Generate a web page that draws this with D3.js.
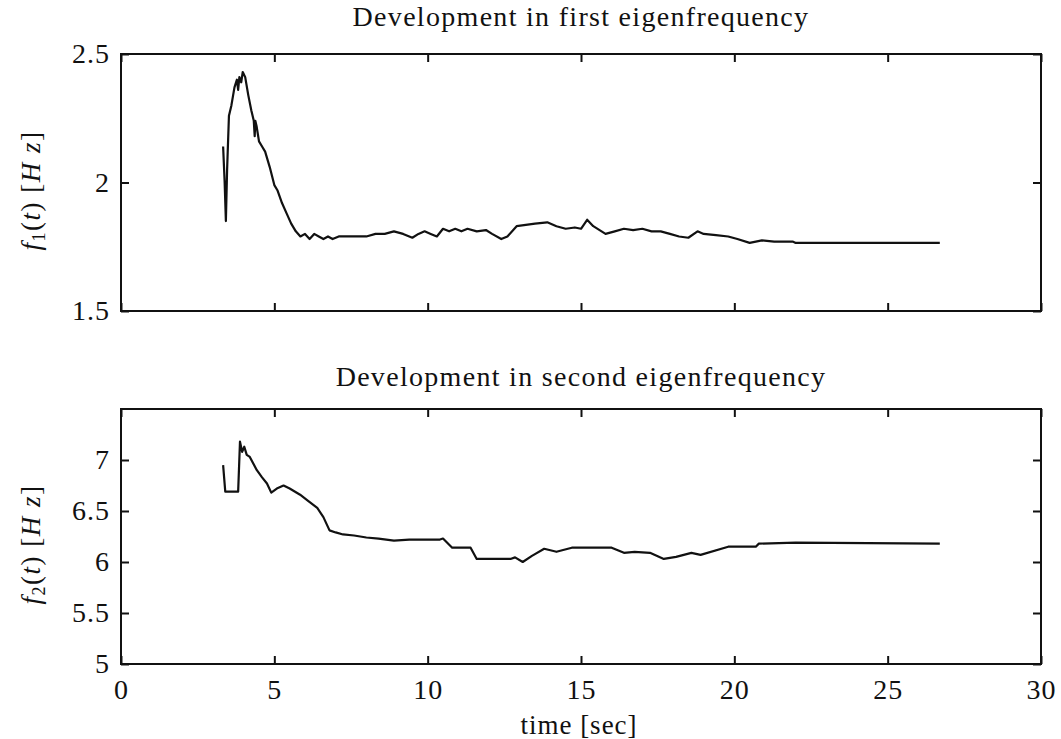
<!DOCTYPE html>
<html>
<head>
<meta charset="utf-8">
<script src="https://cdn.jsdelivr.net/npm/d3@7"></script>
<style>
	body { margin: 0; background: #fff; }
	text { font-family: "Liberation Serif", "Times New Roman", serif; fill: #111; }
</style>
</head>
<body>
<div id="container"></div>
<script>
////////// DATA

var f1Time = [3.33, 3.38, 3.42, 3.46, 3.52, 3.60, 3.70, 3.78, 3.82, 3.86, 3.92, 3.97, 4.05, 4.15, 4.25, 4.33, 4.36, 4.38, 4.42, 4.50,
	4.60, 4.70, 4.85, 5.00, 5.10, 5.25, 5.40, 5.55, 5.70, 5.85, 6.00, 6.15, 6.30, 6.45, 6.60, 6.75, 6.90, 7.10, 7.50, 8.00,
	8.30, 8.60, 8.90, 9.20, 9.50, 9.70, 9.90, 10.10, 10.30, 10.50, 10.70, 10.90, 11.10, 11.30, 11.60, 11.90, 12.10, 12.40, 12.60, 12.90,
	13.20, 13.50, 13.90, 14.20, 14.50, 14.80, 15.00, 15.20, 15.40, 15.80, 16.10, 16.40, 16.70, 17.00, 17.30, 17.60, 17.90, 18.20, 18.50, 18.80,
	19.00, 19.40, 19.80, 20.10, 20.50, 20.90, 21.30, 21.90, 22.00, 26.70];
var f1Value = [2.14, 2.00, 1.85, 2.05, 2.26, 2.30, 2.37, 2.40, 2.36, 2.41, 2.39, 2.43, 2.41, 2.34, 2.28, 2.24, 2.18, 2.24, 2.22, 2.16,
	2.14, 2.12, 2.06, 1.99, 1.97, 1.92, 1.88, 1.84, 1.81, 1.79, 1.80, 1.78, 1.80, 1.79, 1.78, 1.79, 1.78, 1.79, 1.79, 1.79,
	1.80, 1.80, 1.81, 1.80, 1.785, 1.80, 1.81, 1.80, 1.79, 1.82, 1.81, 1.82, 1.81, 1.82, 1.81, 1.815, 1.80, 1.78, 1.79, 1.83,
	1.835, 1.84, 1.845, 1.83, 1.82, 1.825, 1.82, 1.855, 1.83, 1.80, 1.81, 1.82, 1.815, 1.82, 1.81, 1.81, 1.80, 1.79, 1.785, 1.81,
	1.80, 1.795, 1.79, 1.78, 1.765, 1.775, 1.77, 1.77, 1.765, 1.765];

var f2Time = [3.33, 3.40, 3.82, 3.88, 3.95, 4.02, 4.10, 4.20, 4.43, 4.60, 4.76, 4.90, 5.08, 5.30, 5.50, 5.84, 6.10, 6.40, 6.60, 6.80,
	7.00, 7.24, 7.60, 8.00, 8.40, 8.90, 9.40, 10.40, 10.50, 10.80, 11.40, 11.60, 12.70, 12.85, 13.10, 13.40, 13.80, 14.20, 14.70, 16.00,
	16.40, 16.75, 17.25, 17.70, 18.10, 18.60, 18.90, 19.80, 20.70, 20.80, 22.00, 26.70];
var f2Value = [6.95, 6.69, 6.69, 7.18, 7.08, 7.13, 7.05, 7.03, 6.90, 6.83, 6.77, 6.68, 6.72, 6.75, 6.72, 6.66, 6.60, 6.53, 6.44, 6.31,
	6.29, 6.27, 6.26, 6.24, 6.23, 6.21, 6.22, 6.22, 6.23, 6.14, 6.14, 6.03, 6.03, 6.045, 6.00, 6.06, 6.13, 6.10, 6.14, 6.14,
	6.09, 6.10, 6.09, 6.03, 6.05, 6.09, 6.07, 6.15, 6.15, 6.18, 6.19, 6.18];

var xTicks = [0, 5, 10, 15, 20, 25, 30];
var f1Ticks = [1.5, 2, 2.5];
var f2Ticks = [5, 5.5, 6, 6.5, 7];

var titles = ["Development in first eigenfrequency", "Development in second eigenfrequency"];

////////// LAYOUT

var gWidth = 1061;
var gHeight = 739;
var plotLeft = 121, plotRight = 1041;

var svg = d3.select("#container").append("svg")
	.attr("width", gWidth)
	.attr("height", gHeight);

var x = d3.scaleLinear().domain([0, 30]).range([plotLeft, plotRight]);

function zip(ts, vs) { return ts.map(function(t, i) { return [t, vs[i]]; }); }

// draws one boxed panel with inward ticks on all four sides
function drawPanel(top, bottom, yDomain, yTicks, data, title, titleY, labelSub, showXLabels)
{
	var y = d3.scaleLinear().domain(yDomain).range([bottom, top]);
	var g = svg.append("g");

	// frame
	g.append("rect")
		.attr("x", plotLeft).attr("y", top)
		.attr("width", plotRight - plotLeft).attr("height", bottom - top)
		.attr("fill", "none").attr("stroke", "#111").attr("stroke-width", 2);

	var axisFont = function(sel) {
		sel.select(".domain").remove();
		sel.selectAll(".tick line").attr("stroke", "#111").attr("stroke-width", 2);
		sel.selectAll("text")
			.style("font-family", "'Liberation Serif', serif")
			.style("font-size", "28px")
			.style("letter-spacing", "1px")
			.attr("fill", "#111");
	};

	g.append("g").attr("transform", "translate(" + plotLeft + ",0)")
		.call(d3.axisLeft(y).tickValues(yTicks).tickSizeInner(-8).tickSizeOuter(0).tickPadding(11).tickFormat(d3.format("")))
		.call(axisFont);
	g.append("g").attr("transform", "translate(" + plotRight + ",0)")
		.call(d3.axisRight(y).tickValues(yTicks).tickSizeInner(-8).tickSizeOuter(0).tickFormat(""))
		.call(axisFont);
	g.append("g").attr("transform", "translate(0," + top + ")")
		.call(d3.axisTop(x).tickValues(xTicks).tickSizeInner(-8).tickSizeOuter(0).tickFormat(""))
		.call(axisFont);
	g.append("g").attr("transform", "translate(0," + bottom + ")")
		.call(d3.axisBottom(x).tickValues(xTicks).tickSizeInner(-8).tickSizeOuter(0).tickPadding(15)
			.tickFormat(showXLabels ? d3.format("") : ""))
		.call(axisFont);

	// curve
	g.append("path")
		.datum(data)
		.attr("d", d3.line().x(function(d) { return x(d[0]); }).y(function(d) { return y(d[1]); }))
		.attr("fill", "none")
		.attr("stroke", "#111")
		.attr("stroke-width", 2.2)
		.attr("stroke-linejoin", "round");

	// title
	svg.append("text")
		.attr("x", (plotLeft + plotRight) / 2)
		.attr("y", titleY)
		.attr("text-anchor", "middle")
		.style("font-size", "28px")
		.style("letter-spacing", "1.3px")
		.text(title);

	// y label: f_n(t) [Hz]
	var lab = svg.append("text")
		.attr("transform", "translate(40," + ((top + bottom) / 2 + 8) + ") rotate(-90)")
		.attr("text-anchor", "middle")
		.style("font-size", "27px")
		.style("letter-spacing", "1.5px");
	lab.append("tspan").style("font-style", "italic").text("f");
	lab.append("tspan").attr("dy", 5).style("font-size", "18px").text(labelSub);
	lab.append("tspan").attr("dy", -5).text("(");
	lab.append("tspan").style("font-style", "italic").text("t");
	lab.append("tspan").text(") [");
	lab.append("tspan").style("font-style", "italic").text("H z");
	lab.append("tspan").text("]");
}

drawPanel(54, 311, [1.5, 2.5], f1Ticks, zip(f1Time, f1Value), titles[0], 26, "1", false);
drawPanel(409, 664, [5, 7.5], f2Ticks, zip(f2Time, f2Value), titles[1], 386, "2", true);

// x axis title
svg.append("text")
	.attr("x", 579)
	.attr("y", 734)
	.attr("text-anchor", "middle")
	.style("font-size", "27px")
	.style("letter-spacing", "1px")
	.text("time [sec]");
</script>
</body>
</html>
